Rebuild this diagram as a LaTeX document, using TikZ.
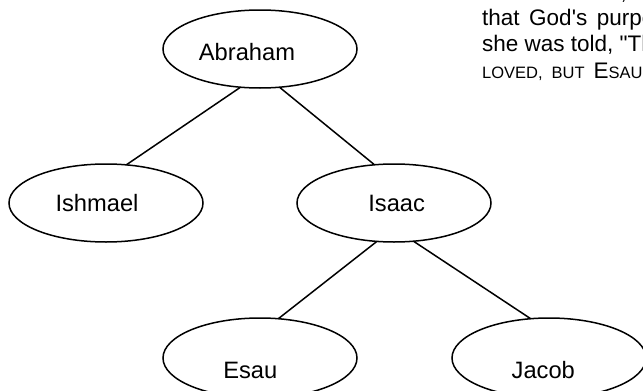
\documentclass[tikz,border=0pt]{standalone}
\usepackage{fontspec}
\setmainfont{Liberation Sans}
\usetikzlibrary{shapes.geometric}
\begin{document}
\begin{tikzpicture}[x=1pt,y=-1pt,
  person/.style={ellipse,draw=black,line width=1.5pt,minimum width=194pt,minimum height=78pt,inner sep=0pt,outer sep=0pt},
  lowperson/.style={person,minimum height=80pt},
  kintext/.style={font=\fontsize{23.7}{24}\selectfont,anchor=base,inner sep=0pt},
  link/.style={line width=1.5pt,draw=black},
  verse/.style={font=\fontsize{22.5}{26}\selectfont,anchor=base west,inner sep=0pt},
  smallcap/.style={font=\fontsize{16.5}{26}\selectfont,anchor=base west,inner sep=0pt}]
\useasboundingbox (0,0) rectangle (643,391);
\clip (0,0) rectangle (643,391);
% persons
\node[person] (abraham) at (260,49) {};
\node[person] (ishmael) at (106,203) {};
\node[person] (isaac) at (394,203) {};
\node[lowperson] (esau) at (260,358) {};
\node[lowperson] (jacob) at (549,358) {};
% names
\node[kintext] (tabraham) at (247,60) {Abraham};
\node[kintext] (tishmael) at (97,211.7) {Ishmael};
\node[kintext] (tisaac) at (396.7,211.7) {Isaac};
\node[kintext] (tesau) at (250.3,378.3) {Esau};
\node[kintext] (tjacob) at (543.3,378.3) {Jacob};
% links
\draw[link] (abraham.243) -- (ishmael.62);
\draw[link] (abraham.297) -- (isaac.117);
\draw[link] (isaac.246) -- (esau.65);
\draw[link] (isaac.297) -- (jacob.115);
% verse text (cut off at the right edge)
\node[verse] (v0) at (620.5,-0.7) {,};
\node[verse] (v1) at (482,25.3) {\spaceskip=9.5pt that God\textquotesingle s purpose};
\node[verse] (v2) at (482,51.3) {she was told, \textquotedbl The};
\node[smallcap] (v3) at (482,78) {\spaceskip=9pt LOVED, BUT {\fontsize{22.5}{26}\selectfont E}SAU};
\end{tikzpicture}
\end{document}
